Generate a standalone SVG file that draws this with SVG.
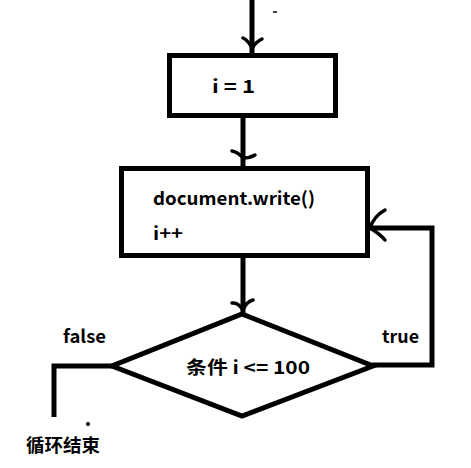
<svg xmlns="http://www.w3.org/2000/svg" width="471" height="468" viewBox="0 0 471 468">
<style>
.shape{fill:none;stroke:#000;stroke-width:5}
.line{fill:none;stroke:#000;stroke-width:5;stroke-linejoin:miter}
.head{fill:none;stroke:#000;stroke-width:3.5;stroke-linecap:round;stroke-linejoin:round}
.t{font-family:"Noto Sans CJK SC","Microsoft YaHei",sans-serif;font-weight:bold;font-size:18px;fill:#000}
</style>
<rect width="471" height="468" fill="#fff"/>
<g id="connectors">
<line class="line" x1="252" y1="0" x2="252" y2="54"/>
<path class="head" d="M243,38 Q248,40 252,48 Q256,42 262,39"/>
<line class="line" x1="243" y1="116" x2="243" y2="168"/>
<path class="head" d="M232,151 Q238,152 243,158 Q250,158 255,155"/>
<line class="line" x1="243" y1="256" x2="243" y2="315"/>
<path class="head" d="M232,303 Q238,302 243,310 Q246,302 253,300"/>
<path class="line" d="M372,365 H432 V228 H370"/>
<path class="head" d="M385,210 Q374,216 370,228 Q380,234 385,240"/>
<path class="line" d="M113,366 H54 V417"/>
<line x1="273" y1="12" x2="277" y2="12" stroke="#000" stroke-width="1.5"/>
<circle cx="88" cy="424" r="2" fill="#000"/>
</g>
<g id="node-init">
<rect class="shape" x="169.5" y="55.5" width="166" height="60"/>
<text class="t" x="212" y="93" textLength="43" lengthAdjust="spacingAndGlyphs">i = 1</text>
</g>
<g id="node-body">
<rect class="shape" x="121.5" y="168.5" width="246" height="87"/>
<text class="t" x="153" y="205" textLength="162" lengthAdjust="spacingAndGlyphs">document.write()</text>
<text class="t" x="153" y="240" textLength="30" lengthAdjust="spacingAndGlyphs">i++</text>
</g>
<g id="node-cond">
<polygon class="shape" points="242,314 373,366 242,416 112,366"/>
<text class="t" x="186" y="374" textLength="124" lengthAdjust="spacingAndGlyphs">条件 i &lt;= 100</text>
</g>
<g id="labels">
<text class="t" x="63" y="343" textLength="43" lengthAdjust="spacingAndGlyphs">false</text>
<text class="t" x="382" y="343" textLength="37" lengthAdjust="spacingAndGlyphs">true</text>
</g>
<g id="node-end">
<text class="t" x="26" y="452" textLength="74" lengthAdjust="spacingAndGlyphs">循环结束</text>
</g>
</svg>
